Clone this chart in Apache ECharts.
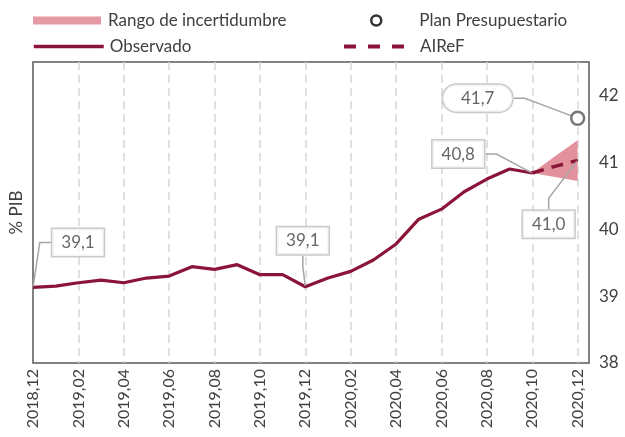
<!DOCTYPE html>
<html><head><meta charset="utf-8">
<script src="https://cdn.jsdelivr.net/npm/echarts@6/dist/echarts.min.js"></script>
<style>html,body{margin:0;padding:0;background:#fff}#c{width:625px;height:437px}</style>
</head><body><div id="c"></div>
<script>
const categories = ['2018,12','2019,01','2019,02','2019,03','2019,04','2019,05','2019,06','2019,07','2019,08','2019,09','2019,10','2019,11','2019,12','2020,01','2020,02','2020,03','2020,04','2020,05','2020,06','2020,07','2020,08','2020,09','2020,10','2020,11','2020,12'];
const observed = [39.13,39.15,39.20,39.24,39.20,39.27,39.30,39.44,39.40,39.47,39.32,39.32,39.14,39.27,39.37,39.54,39.78,40.15,40.30,40.56,40.75,40.90,40.84];
const forecastIdx = [22,23,24];
const airef = [40.84,40.94,41.03];
const bandLower = [40.84,40.78,40.72];
const bandUpper = [40.84,41.09,41.33];
const planIdx = 24;
const plan = 41.66;
const annotatedIdx = [0,12,22];

const FONT = 'Lato';
const TXT = '#404040';
const RED = '#8B1538';
const fmt = v => v.toFixed(1).replace('.', ',');

const obsData = observed.map((v,i)=>[i,v]);
const airefData = airef.map((v,i)=>[forecastIdx[i],v]);
const bandData = forecastIdx.map((x,i)=>[x, bandLower[i], bandUpper[i]]);
const annData = annotatedIdx.map(i=>[i,observed[i]]).concat([[forecastIdx[2], airef[2]]]);
const annShift = [[45,-45],[-2.5,-46],[-74,-19],[-29,64]];

const boxLabel = {
  show:true, position:'inside', formatter:p=>fmt(p.value[1]),
  backgroundColor:'#fff', borderColor:'#bdbdbd', borderWidth:1.5,
  padding:[6,9,4,9], fontSize:17, color:TXT, fontFamily:FONT
};
const guide = {show:true, length2:11, lineStyle:{color:'#a6a6a6', width:1.5}};
const hiddenSym = {color:'rgba(0,0,0,0)', borderWidth:0, opacity:0};

const chart = echarts.init(document.getElementById('c'), null, {renderer:'canvas'});
chart.setOption({
  animation:false,
  textStyle:{fontFamily:FONT},
  grid:{left:31, right:36, top:62, bottom:74, show:true, borderColor:'#5a5a5a', borderWidth:1.5, backgroundColor:'transparent'},
  legend:[
    {left:33, top:12, padding:0, data:[{name:'Rango de incertidumbre', icon:'rect', itemStyle:{color:'#E59AA3'}}], itemWidth:68, itemHeight:8,
     textStyle:{fontSize:17, color:TXT, fontFamily:FONT, padding:[0,0,0,2]}},
    {left:32, top:38, padding:0, data:[{name:'Observado', itemStyle:hiddenSym, lineStyle:{width:3.5, color:RED}}], itemWidth:70, itemHeight:14,
     lineStyle:{width:3.5},
     textStyle:{fontSize:17, color:TXT, fontFamily:FONT, padding:[0,0,0,1]}},
    {left:370, top:12, padding:0, data:[{name:'Plan Presupuestario', icon:'circle', itemStyle:{color:'#fff', borderColor:'#000', borderWidth:2.5}}],
     itemWidth:10, itemHeight:10, textStyle:{fontSize:17, color:TXT, fontFamily:FONT, padding:[0,0,0,33]}},
    {left:342, top:38, padding:0, data:[{name:'AIReF', itemStyle:hiddenSym, lineStyle:{width:4, color:RED, type:[12,12]}}], itemWidth:60, itemHeight:14,
     lineStyle:{width:4, type:[12,12]},
     textStyle:{fontSize:17, color:TXT, fontFamily:FONT, padding:[0,0,0,11]}}
  ],
  xAxis:{type:'value', min:0, max:24.5, interval:2,
    axisLine:{show:false}, axisTick:{show:false},
    splitLine:{show:true, showMinLine:false, showMaxLine:false, lineStyle:{color:'#d6d6d6', width:1.5, type:[8,5]}},
    axisLabel:{rotate:90, fontSize:16, color:TXT, fontFamily:FONT, margin:6,
      formatter:v=>categories[v]||''}},
  yAxis:[
    {type:'value', position:'right', min:38, max:42.5, interval:1,
     axisLine:{show:false}, axisTick:{show:false}, splitLine:{show:false},
     axisLabel:{fontSize:17, color:TXT, fontFamily:FONT, margin:10, formatter:v=>Number.isInteger(v)?String(v):''}},
    {type:'value', position:'left', min:38, max:42.5, interval:1,
     axisLine:{show:false}, axisTick:{show:false}, splitLine:{show:false}, axisLabel:{show:false},
     name:'% PIB', nameLocation:'middle', nameGap:8, nameRotate:90,
     nameTextStyle:{fontSize:17, color:TXT, fontFamily:FONT}}
  ],
  series:[
    {name:'Rango de incertidumbre', type:'custom', data:bandData, encode:{x:0, y:[1,2]},
     itemStyle:{color:'#E59AA3'}, z:1, silent:true,
     renderItem:(params, api)=>{
       if (params.dataIndex !== 0) return null;
       const pts = [];
       for (let i=0;i<bandData.length;i++) pts.push(api.coord([bandData[i][0], bandData[i][2]]));
       for (let i=bandData.length-1;i>=0;i--) pts.push(api.coord([bandData[i][0], bandData[i][1]]));
       return {type:'polygon', shape:{points:pts}, style:{fill:'#E3929D'}};
     }},
    {name:'Observado', type:'line', data:obsData, symbol:'none', color:RED, lineStyle:{width:3.2, color:RED}, z:3},
    {name:'AIReF', type:'line', data:airefData, symbol:'none', color:RED, lineStyle:{width:3.5, color:RED, type:[12,8]}, z:3},
    {name:'Plan Presupuestario', type:'scatter', data:[[planIdx, plan]], symbol:'circle', symbolSize:13,
     itemStyle:{color:'#fff', borderColor:'#555', borderWidth:2.5}, z:4,
     label:Object.assign({}, boxLabel, {borderRadius:14, padding:[6,18,4,18]}),
     labelLine:guide, labelLayout:()=>({dx:-100, dy:-20})},
    {name:'ann', type:'scatter', data:annData, symbol:'circle', symbolSize:2, itemStyle:{color:'rgba(0,0,0,0)'}, z:5,
     label:boxLabel, labelLine:guide, labelLayout:p=>({dx:annShift[p.dataIndex][0], dy:annShift[p.dataIndex][1]})}
  ]
});
</script></body></html>
